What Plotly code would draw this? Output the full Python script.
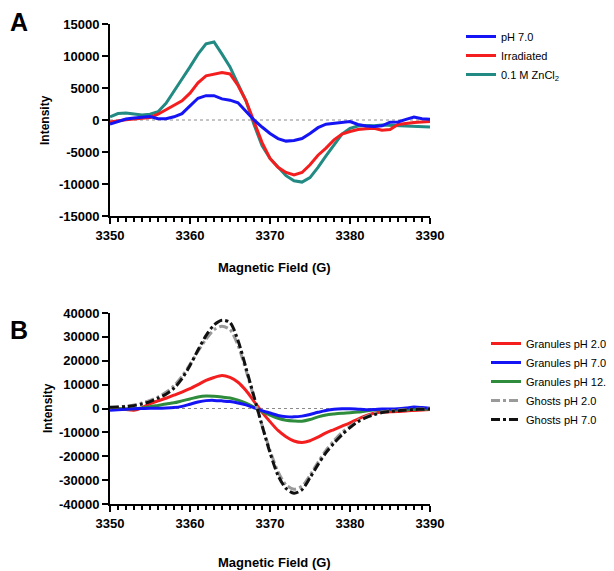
import plotly.graph_objects as go

# ---------------- data ----------------
field_a = list(range(3350, 3391))
ph7_a = [-650, -200, 150, 300, 450, 550, 200, 200, 500, 1000,
         2200, 3400, 3800, 3800, 3300, 3100, 2700, 1400, 0, -1100,
         -2100, -2900, -3300, -3200, -2900, -2100, -1200, -650, -500, -350,
         -250, -700, -950, -1000, -900, -350, -300, 100, 450, 200, 100]
irradiated_a = [-300, -100, 50, 150, 250, 400, 900, 1600, 2300, 3000,
                4200, 5800, 6900, 7100, 7400, 7200, 5400, 3000, -300, -3500,
                -6000, -7400, -8200, -8600, -8200, -7000, -5500, -4400, -3100, -2200,
                -1800, -1500, -1350, -1300, -1600, -1500, -700, -500, -400, -300, -250]
zncl2_a = [500, 1000, 1100, 900, 800, 900, 1300, 2600, 4400, 6400,
           8300, 10300, 11900, 12200, 10300, 8300, 5600, 3000, -700, -4000,
           -6000, -7400, -8700, -9500, -9700, -9000, -7400, -5600, -3800, -2200,
           -1300, -950, -850, -900, -800, -850, -950, -1000, -1050, -1100, -1100]

field_b = list(range(3350, 3391))
gran_ph2 = [300, 0, -400, -700, 300, 2000, 3200, 4300, 5600, 6900,
            8300, 10000, 11800, 13000, 13800, 13000, 11000, 7500, 3000, -1500,
            -5500, -9200, -11800, -13600, -14200, -13500, -12000, -10200, -8800, -7400,
            -6000, -4400, -3000, -2000, -1500, -1400, -1300, -1000, -800, -600, -400]
gran_ph7 = [-700, -500, -300, -100, 0, 100, 100, 200, 400, 900,
            1800, 2700, 3300, 3400, 3200, 2900, 2300, 1500, 300, -900,
            -1900, -2900, -3400, -3500, -3200, -2500, -1600, -800, -300, -100,
            -100, -300, -500, -400, -200, -200, -100, 200, 600, 400, 100]
gran_ph12 = [0, -100, -200, -100, 200, 700, 1300, 1900, 2400, 3200,
             4000, 4800, 5200, 5100, 4800, 4400, 3500, 2200, 600, -1200,
             -2800, -4100, -4900, -5200, -5300, -4600, -3500, -2700, -2300, -2000,
             -1800, -1500, -1000, -600, -400, -500, -600, -500, -400, -300, -200]
ghosts_ph2 = [300, 600, 1000, 1500, 2300, 3400, 4800, 6800, 9500, 13500,
              18500, 24000, 29000, 33000, 34500, 33000, 26500, 16000, 4500, -7000,
              -17500, -26500, -32000, -33800, -32500, -28000, -22500, -17500, -13500, -10000,
              -7500, -5000, -3400, -2200, -1500, -1000, -700, -500, -300, -200, -100]
ghosts_ph7 = [500, 600, 800, 1200, 1900, 2900, 4300, 6000, 8500, 12500,
              18000, 24500, 30500, 35000, 37000, 36000, 28500, 17000, 5000, -7000,
              -18500, -28000, -33500, -35500, -34000, -29000, -23500, -18500, -14500, -11000,
              -8000, -5500, -3800, -2600, -1700, -1200, -900, -600, -400, -300, -200]

x_ticks = [3350, 3360, 3370, 3380, 3390]
x_ticktext = ["3350", "3360", "3370", "3380", "3390"]
ya_ticks = [-15000, -10000, -5000, 0, 5000, 10000, 15000]
ya_ticktext = ["-15000", "-10000", "-5000", "0", "5000", "10000", "15000"]
yb_ticks = [-40000, -30000, -20000, -10000, 0, 10000, 20000, 30000, 40000]
yb_ticktext = ["-40000", "-30000", "-20000", "-10000", "0", "10000", "20000", "30000", "40000"]

# ---------------- styling ----------------
W, H = 614, 571
OFF = 8  # page body margin in the browser
FONT = "Liberation Sans, Arial, Helvetica, sans-serif"
BLUE = "#1414F5"
RED = "#F51E1E"
TEAL = "#218A82"
GREEN = "#2E8C3C"
GRAY = "#9A9A9A"
BLACK = "#111111"

fig = go.Figure()

def add(x, y, name, color, xa, ya, legend, rank, dash="solid", shape="linear"):
    fig.add_trace(go.Scatter(
        x=x, y=y, name=name, mode="lines",
        line=dict(color=color, width=3, dash=dash, shape=shape, smoothing=0.8),
        xaxis=xa, yaxis=ya, legend=legend, legendrank=rank))

# Panel A (draw teal first, blue on top)
add(field_a, zncl2_a, "0.1 M ZnCl<sub>2</sub>", TEAL, "x", "y", "legend", 3)
add(field_a, irradiated_a, "Irradiated", RED, "x", "y", "legend", 2)
add(field_a, ph7_a, "pH 7.0", BLUE, "x", "y", "legend", 1)

# Panel B
add(field_b, gran_ph2, "Granules pH 2.0", RED, "x2", "y2", "legend2", 1, shape="spline")
add(field_b, gran_ph12, "Granules pH 12.0", GREEN, "x2", "y2", "legend2", 3, shape="spline")
add(field_b, gran_ph7, "Granules pH 7.0", BLUE, "x2", "y2", "legend2", 2, shape="spline")
add(field_b, ghosts_ph2, "Ghosts pH 2.0", GRAY, "x2", "y2", "legend2", 4, dash="dashdot", shape="spline")
add(field_b, ghosts_ph7, "Ghosts pH 7.0", BLACK, "x2", "y2", "legend2", 5, dash="dashdot", shape="spline")

def px_x(p):
    return (p - OFF) / W

def px_y(p):
    return 1 - (p - OFF) / H

xdom = [px_x(110), px_x(430)]
ya_dom = [px_y(216), px_y(24)]
yb_dom = [px_y(504), px_y(313)]

tickfont = dict(family=FONT, size=13, color="black", weight="bold")

def xaxis(anchor):
    return dict(
        domain=xdom, anchor=anchor, range=[3350, 3390], automargin=False,
        tickmode="array", tickvals=x_ticks, ticktext=x_ticktext,
        showline=True, linecolor="black", linewidth=2,
        ticks="outside", ticklen=6, tickwidth=2, tickcolor="black",
        minor=dict(dtick=1, tick0=3350, ticks="outside", ticklen=4, tickwidth=1.5,
                   tickcolor="black", showgrid=False),
        showgrid=False, zeroline=False, tickfont=tickfont,
    )

def yaxis(anchor, dom, rng, tv, tt):
    return dict(
        domain=dom, anchor=anchor, range=rng, automargin=False,
        tickmode="array", tickvals=tv, ticktext=tt,
        showline=True, linecolor="black", linewidth=2,
        ticks="outside", ticklen=6, tickwidth=2, tickcolor="black",
        showgrid=False, zeroline=False, tickfont=tickfont,
    )

def label(text, x, y, size, angle=0):
    return dict(text=text, x=px_x(x), y=px_y(y), xref="paper", yref="paper",
                xanchor="center", yanchor="middle", showarrow=False, textangle=angle,
                font=dict(family=FONT, size=size, color="black", weight="bold"))

fig.update_layout(
    width=W, height=H,
    margin=dict(l=0, r=0, t=0, b=0, autoexpand=False),
    paper_bgcolor="white", plot_bgcolor="white",
    showlegend=True,
    xaxis=xaxis("y"),
    yaxis=yaxis("x", ya_dom, [-15000, 15000], ya_ticks, ya_ticktext),
    xaxis2=xaxis("y2"),
    yaxis2=yaxis("x2", yb_dom, [-40000, 40000], yb_ticks, yb_ticktext),
    legend=dict(x=px_x(461), y=px_y(22), xanchor="left", yanchor="top",
                font=dict(family=FONT, size=11, color="black"),
                bgcolor="rgba(0,0,0,0)", itemwidth=30, tracegroupgap=0),
    legend2=dict(x=px_x(486), y=px_y(329), xanchor="left", yanchor="top",
                 font=dict(family=FONT, size=11, color="black"),
                 bgcolor="rgba(0,0,0,0)", itemwidth=30, tracegroupgap=0),
    shapes=[
        dict(type="line", xref="x domain", yref="y", x0=0, x1=1, y0=0, y1=0,
             line=dict(color="#8a8a8a", width=1, dash="dot"), layer="below"),
        dict(type="line", xref="x2 domain", yref="y2", x0=0, x1=1, y0=0, y1=0,
             line=dict(color="#8a8a8a", width=1, dash="dot"), layer="below"),
    ],
    annotations=[
        label("A", 19, 22, 25),
        label("B", 19, 330, 25),
        label("Intensity", 45, 120, 12, -90),
        label("Intensity", 48, 408, 12, -90),
        label("Magnetic Field (G)", 274, 268, 13),
        label("Magnetic Field (G)", 274, 562, 13),
    ],
)

fig.write_html("out.html")
